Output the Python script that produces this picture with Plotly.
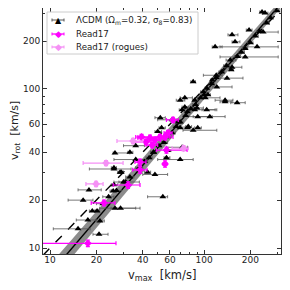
import numpy as np
import plotly.graph_objects as go

# LCDM points: v_max, v_rot, v_max lower / upper error extent
lcdm_vmax = [152, 159, 118, 221, 185, 148, 152, 150, 120, 141, 113, 85, 104, 121, 137, 106, 87, 90, 104, 91,
             70, 75, 52, 62, 79, 85, 102, 72, 78, 87, 109, 63, 68, 70, 78, 91, 53, 50, 36, 72,
             58, 57, 70, 36, 26, 29, 43, 48, 31, 26, 26.4, 33, 47, 26, 28.5, 54, 17.9, 25.7, 16.4, 18.8,
             20.2, 26.4, 28.7, 17.6, 21.1, 15.2, 20.8, 238, 249, 298, 196, 242, 164, 75, 137, 99,
             165, 175, 185, 200, 215, 230, 255, 270, 140, 130, 120, 112, 100, 95, 88, 82, 76, 70, 66, 62,
             58, 55, 51, 47, 44, 41, 38, 33, 30, 27, 24, 22]
lcdm_vrot = [219, 198, 184, 184, 159, 152, 137, 132, 122, 117, 114, 111, 101, 103, 85, 92, 85, 76, 74, 67,
             85, 77, 66, 64, 58, 55, 88, 74, 72, 74, 67, 64, 62, 57, 57, 57, 57, 54, 44, 43,
             41, 37, 36, 36, 32, 30, 30, 29, 26, 25, 39.6, 40, 40, 31.4, 30, 21, 23.2, 22.8, 20, 17.1,
             17.1, 17.8, 17.8, 15, 14.8, 13.2, 12.2, 305, 300, 310, 235, 228, 82, 88, 83, 96,
             160, 170, 180, 195, 215, 230, 260, 280, 140, 128, 118, 108, 92, 88, 80, 75, 68, 62, 58, 53,
             50, 46, 44, 40, 37, 35, 32, 28, 26, 23, 21, 19]
lcdm_lo = [143, 152, 113, 127, 127, 139, 137, 146, 99, 127, 110, 82, 101, 114, 118, 103, 84, 84, 97, 79,
           66, 72, 48, 50, 76, 73, 91, 69, 75, 81, 85, 61, 66, 67, 75, 87, 51, 48, 30, 57,
           56, 55, 50, 26, 25, 28, 41, 40, 26, 25, 25.7, 32, 45, 18, 27.5, 43, 15.2, 24.5, 13.1, 18,
           19.5, 21, 24.9, 14.8, 19.9, 10.5, 19, 230, 240, 285, 188, 231, 149, 70, 127, 95,
           158, 168, 178, 192, 206, 220, 245, 260, 134, 125, 115, 108, 96, 91, 84, 79, 73, 67, 63, 59,
           55, 53, 49, 45, 42, 39, 36, 31, 28, 25, 22, 20]
lcdm_hi = [166, 171, 131, 303, 303, 161, 176, 155, 131, 179, 117, 88, 108, 152, 154, 110, 91, 99, 118, 113,
           75, 79, 56, 68, 83, 121, 127, 75, 82, 121, 137, 66, 71, 73, 82, 96, 56, 53, 41, 78,
           61, 60, 85, 43, 27, 30, 45, 58, 38, 27.5, 33, 34.5, 49, 33.6, 29.5, 58, 21.5, 27, 19, 19.8,
           21, 36, 38.4, 19.9, 22.5, 18.2, 23.8, 248, 260, 310, 205, 303, 185, 84, 152, 103,
           172, 183, 192, 208, 225, 240, 265, 280, 146, 136, 125, 117, 105, 99, 92, 85, 80, 73, 69, 65,
           61, 58, 53, 49, 46, 43, 40, 35, 32, 29, 26, 23.5]

# Read17 points
r17_vmax = [38.4, 38.4, 55.8, 32.1, 22.4, 17.6, 62.9, 51.8, 48.1, 55.8, 58.4, 44.6, 57.0, 39.3, 42.0, 46.0]
r17_vrot = [34.7, 31.0, 33.8, 24.9, 19.2, 10.7, 63.9, 49.9, 47.8, 49.9, 52.9, 49.2, 41.3, 49.9, 46.4, 44.4]
r17_xlo = [35.6, 34.4, 54.2, 25.7, 18.5, 8.0, 57.0, 37.2, 44.0, 52.0, 55.0, 37.2, 49.0, 36.0, 35.0, 42.0]
r17_xhi = [42.0, 42.6, 57.4, 38.4, 26.4, 26.8, 68.0, 62.9, 52.0, 60.0, 62.0, 54.2, 77.6, 44.0, 48.0, 50.0]
r17_yerr = [1.5, 1.5, 1.5, 1.2, 0.8, 0.5, 2.5, 2.0, 2.0, 2.0, 2.0, 2.0, 1.8, 2.0, 1.8, 1.8]

# Read17 rogues
rog_vmax = [23.1, 19.9, 34.6, 73.6]
rog_vrot = [34.2, 25.3, 47.1, 42.4]
rog_xlo = [16.4, 17.1, 27.2, 62.0]
rog_xhi = [29.8, 22.1, 40.0, 79.0]
rog_yerr = [1.2, 1.0, 1.8, 1.6]

# legend labels and colours
legend_labels = ['ΛCDM (Ω<sub>m</sub>=0.32, σ<sub>8</sub>=0.83)', 'Read17', 'Read17 (rogues)']
legend_glyphs = ['▲', '◆', '◆']
c_lcdm, c_r17, c_rog = 'black', '#ff00ff', '#f590f5'
legend_colors = [c_lcdm, c_r17, c_rog]

# fitted relation (log v_rot = a + b (log v_max - c)) and band half-width (dex)
fit_a, fit_b, fit_c = 0.962, 1.134, 1.11
band_low_end, band_high_end = 0.06, 0.025
x_range = [9.0, 316.0]
y_range = [9.17, 323.0]

tickv = [10, 20, 40, 60, 100, 200]
minor_v = [30, 50, 70, 80, 90, 300]

lx = np.linspace(np.log10(x_range[0]), np.log10(x_range[1]), 100)
ly = fit_a + fit_b * (lx - fit_c)
hw = band_low_end + (band_high_end - band_low_end) * (lx - lx[0]) / (lx[-1] - lx[0])
xs = 10 ** lx

fig = go.Figure()
fig.add_trace(go.Scatter(x=np.concatenate([xs, xs[::-1]]),
                         y=np.concatenate([10 ** (ly + hw), 10 ** (ly - hw)[::-1]]),
                         fill='toself', fillcolor='#8c8c8c', line=dict(width=0),
                         showlegend=False, hoverinfo='skip'))
fig.add_trace(go.Scatter(x=xs, y=10 ** ly, mode='lines', line=dict(color='black', width=1.4),
                         showlegend=False))
fig.add_trace(go.Scatter(x=x_range, y=x_range, mode='lines',
                         line=dict(color='black', width=1.4, dash='dash'), showlegend=False))

lv = np.array(lcdm_vmax)
fig.add_trace(go.Scatter(
    x=lcdm_vmax, y=lcdm_vrot, mode='markers',
    marker=dict(symbol='triangle-up', size=6, color=c_lcdm),
    error_x=dict(type='data', symmetric=False, array=np.array(lcdm_hi) - lv,
                 arrayminus=lv - np.array(lcdm_lo), color='#555555', thickness=0.8, width=1.5),
    name=legend_labels[0], showlegend=False))

rv = np.array(r17_vmax)
fig.add_trace(go.Scatter(
    x=r17_vmax, y=r17_vrot, mode='markers',
    marker=dict(symbol='diamond', size=6, color=c_r17),
    error_x=dict(type='data', symmetric=False, array=np.array(r17_xhi) - rv,
                 arrayminus=rv - np.array(r17_xlo), color=c_r17, thickness=1.2, width=2),
    error_y=dict(type='data', array=r17_yerr, color=c_r17, thickness=1.2, width=2),
    name=legend_labels[1], showlegend=False))

gv = np.array(rog_vmax)
fig.add_trace(go.Scatter(
    x=rog_vmax, y=rog_vrot, mode='markers',
    marker=dict(symbol='diamond', size=6, color=c_rog),
    error_x=dict(type='data', symmetric=False, array=np.array(rog_xhi) - gv,
                 arrayminus=gv - np.array(rog_xlo), color=c_rog, thickness=1.2, width=2),
    error_y=dict(type='data', array=rog_yerr, color=c_rog, thickness=1.2, width=2),
    name=legend_labels[2], showlegend=False))

axis_common = dict(type='log', showline=True, linecolor='#333333', linewidth=1, mirror='ticks',
                   ticks='inside', ticklen=4, tickcolor='#333333', showgrid=False, zeroline=False,
                   tickfont=dict(family='DejaVu Sans', size=9, color='#222222'),
                   minor=dict(tickvals=minor_v, ticks='inside', ticklen=2, tickcolor='#333333'))

# page body has an 8px margin: figure is shifted by 8px right/down
W, H = 282, 282
ml, mr, mt, mb = 35, 9, 0, 36
pw, ph = W - ml - mr, H - mt - mb


def px(xf):
    return (xf - ml) / pw


def py(yf):
    return (H - mb - yf) / ph


shapes = [dict(type='rect', xref='paper', yref='paper', x0=px(39), x1=px(190), y0=py(46), y1=py(4),
               line=dict(color='#cccccc', width=1), fillcolor='rgba(255,255,255,0.85)', layer='above')]
annotations = []
rows_y = [12, 26, 39]
for i, (lab, gl, col) in enumerate(zip(legend_labels, legend_glyphs, legend_colors)):
    yy = py(rows_y[i])
    bar_col = col if i else '#555555'
    shapes.append(dict(type='line', xref='paper', yref='paper', x0=px(44), x1=px(56), y0=yy, y1=yy,
                       line=dict(color=bar_col, width=1 if i == 0 else 1.3), layer='above'))
    for xc in (44, 56):
        shapes.append(dict(type='line', xref='paper', yref='paper', x0=px(xc), x1=px(xc),
                           y0=yy - 1.5 / ph, y1=yy + 1.5 / ph,
                           line=dict(color=bar_col, width=1), layer='above'))
    annotations.append(dict(text=gl, xref='paper', yref='paper', x=px(50), y=yy, xanchor='center',
                            yanchor='middle', showarrow=False, font=dict(size=8 if i == 0 else 9, color=col)))
    annotations.append(dict(text=lab, xref='paper', yref='paper', x=px(66), y=yy, xanchor='left',
                            yanchor='middle', showarrow=False, font=dict(size=8.7, color='#222222')))

annotations += [
    dict(text='v<sub>max</sub>  [km/s]', xref='paper', yref='paper', x=0.5, y=py(267),
         xanchor='center', yanchor='middle', showarrow=False, font=dict(size=11.5)),
    dict(text='v<sub>rot</sub>  [km/s]', xref='paper', yref='paper', x=px(7), y=0.5,
         xanchor='center', yanchor='middle', showarrow=False, textangle=-90, borderpad=0,
         font=dict(size=11)),
]

fig.update_layout(
    width=W, height=H, margin=dict(l=ml, r=mr, t=mt, b=mb),
    plot_bgcolor='white', paper_bgcolor='white',
    font=dict(family='DejaVu Sans', color='#222222'),
    xaxis=dict(range=[np.log10(x_range[0]), np.log10(x_range[1])], tickvals=tickv,
               ticktext=[str(t) for t in tickv], ticklabelstandoff=-3, **axis_common),
    yaxis=dict(range=[np.log10(y_range[0]), np.log10(y_range[1])], tickvals=tickv,
               ticktext=[str(t) for t in tickv], **axis_common),
    showlegend=False,
    shapes=shapes,
    annotations=annotations,
)

fig.write_html('out.html')
